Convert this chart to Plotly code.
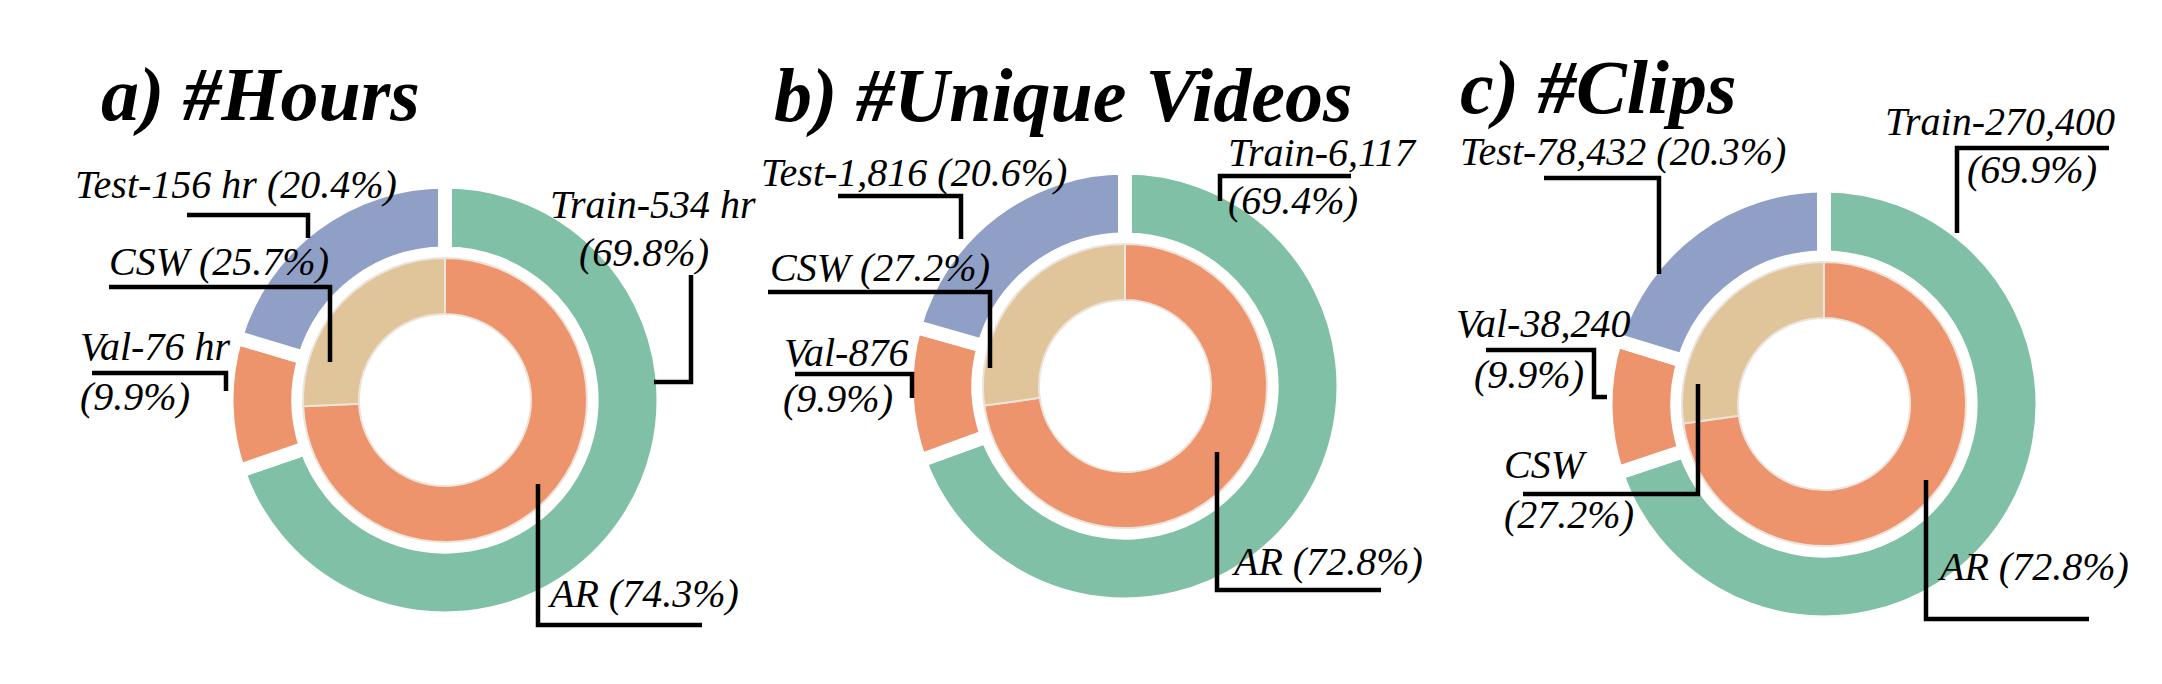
import plotly.graph_objects as go

# --- Data ---
PANEL_TITLES = ["a) #Hours", "b) #Unique Videos", "c) #Clips"]
SPLITS = ["Train", "Val", "Test"]
SOURCES = ["AR", "CSW"]

HOURS = [534, 76, 156]
VIDEOS = [6117, 876, 1816]
CLIPS = [270400, 38240, 78432]

SOURCE_PCT_HOURS = [74.3, 25.7]
SOURCE_PCT_VIDEOS = [72.8, 27.2]
SOURCE_PCT_CLIPS = [72.8, 27.2]

# label text, one list of lines per label (Train, Val, Test, AR, CSW)
LABELS_HOURS = [["Train-534 hr", "(69.8%)"], ["Val-76 hr", "(9.9%)"], ["Test-156 hr (20.4%)"],
                ["AR (74.3%)"], ["CSW (25.7%)"]]
LABELS_VIDEOS = [["Train-6,117", "(69.4%)"], ["Val-876", "(9.9%)"], ["Test-1,816 (20.6%)"],
                 ["AR (72.8%)"], ["CSW (27.2%)"]]
LABELS_CLIPS = [["Train-270,400", "(69.9%)"], ["Val-38,240", "(9.9%)"], ["Test-78,432 (20.3%)"],
                ["AR (72.8%)"], ["CSW", "(27.2%)"]]

# --- Style / layout (pixels of the page) ---
W, H = 2162, 684
PAGE_MARGIN = 8  # default body margin of the html page
SPLIT_COLORS = ["#7FC0A6", "#EE946C", "#8F9FC6"]
SOURCE_COLORS = ["#EE946C", "#E0C49A"]
FONT = "Liberation Serif"
LABEL_SIZE = 40
TITLE_SIZE = 76
GAP = 14                      # white gap between outer wedges
OUTER_R, OUTER_HOLE = 211.5 + GAP / 2, 0.671
INNER_R, INNER_HOLE = 142, 0.606

CENTERS = [(445, 400), (1125, 386), (1824, 404)]
TITLE_POS = [(99, 116), (772, 117), (1458, 109)]

# per label: list of (x_left, baseline) for each text line, and the leader line points
TEXT_POS = [
    [[(548, 220), (577, 268)], [(78, 362), (78, 412)], [(73, 200)], [(545, 609)], [(107, 277)]],
    [[(1226, 168), (1226, 216)], [(782, 368), (781, 414)], [(759, 188)], [(1229, 577)], [(768, 283)]],
    [[(1883, 137), (1965, 185)], [(1454, 339), (1472, 390)], [(1458, 167)], [(1935, 582)],
     [(1502, 480), (1502, 530)]],
]
LEADERS = [
    [[(691, 275), (691, 382), (654, 382)], [(92, 373), (226, 373), (226, 391)],
     [(187, 215), (308, 215), (308, 238)], [(538, 484), (538, 625), (702, 625)],
     [(109, 287), (330, 287), (330, 362)]],
    [[(1351, 176), (1220, 176), (1220, 201)], [(795, 374), (912, 374), (912, 398)],
     [(838, 196), (961, 196), (961, 239)], [(1217, 452), (1217, 590), (1381, 590)],
     [(768, 292), (990, 292), (990, 368)]],
    [[(2109, 148), (1957, 148), (1957, 233)], [(1486, 350), (1594, 350), (1594, 397), (1607, 397)],
     [(1544, 178), (1659, 178), (1659, 274)], [(1926, 480), (1926, 619), (2089, 619)],
     [(1523, 494), (1698, 494), (1698, 384)]],
]


def px(x):
    return (x - PAGE_MARGIN) / W


def py(y):
    return 1 - (y - PAGE_MARGIN) / H


def domain(cx, cy, half):
    return dict(x=[px(cx - half), px(cx + half)], y=[py(cy + half), py(cy - half)])


fig = go.Figure()

split_values = [HOURS, VIDEOS, CLIPS]
source_values = [SOURCE_PCT_HOURS, SOURCE_PCT_VIDEOS, SOURCE_PCT_CLIPS]
all_labels = [LABELS_HOURS, LABELS_VIDEOS, LABELS_CLIPS]

for i, (cx, cy) in enumerate(CENTERS):
    # outer ring: data splits
    fig.add_trace(go.Pie(
        labels=SPLITS, values=split_values[i], sort=False, direction="clockwise", rotation=0,
        hole=OUTER_HOLE, textinfo="none", hoverinfo="label+value+percent",
        marker=dict(colors=SPLIT_COLORS, line=dict(color="white", width=GAP)),
        domain=domain(cx, cy, OUTER_R), showlegend=False,
    ))
    # inner ring: video sources
    fig.add_trace(go.Pie(
        labels=SOURCES, values=source_values[i], sort=False, direction="clockwise", rotation=0,
        hole=INNER_HOLE, textinfo="none", hoverinfo="label+percent",
        marker=dict(colors=SOURCE_COLORS, line=dict(color="#ECE3DA", width=2)),
        domain=domain(cx, cy, INNER_R), showlegend=False,
    ))

annotations = []
shapes = []
for i in range(3):
    tx, tb = TITLE_POS[i]
    annotations.append(dict(
        text=PANEL_TITLES[i], x=px(tx), y=py(tb - 0.284 * TITLE_SIZE), xref="paper", yref="paper",
        xanchor="left", yanchor="middle", showarrow=False,
        font=dict(family=FONT, size=TITLE_SIZE, color="black", weight="bold", style="italic"),
    ))
    for lines, positions in zip(all_labels[i], TEXT_POS[i]):
        for text, (lx, lb) in zip(lines, positions):
            annotations.append(dict(
                text=text, x=px(lx), y=py(lb - 0.39 * LABEL_SIZE), xref="paper", yref="paper",
                xanchor="left", yanchor="middle", showarrow=False,
                font=dict(family=FONT, size=LABEL_SIZE, color="black", style="italic"),
            ))
    for pts in LEADERS[i]:
        path = "M " + " L ".join(f"{px(x):.5f},{py(y):.5f}" for x, y in pts)
        shapes.append(dict(type="path", path=path, xref="paper", yref="paper",
                           line=dict(color="black", width=4.5)))

fig.update_layout(
    width=W, height=H, margin=dict(l=0, r=0, t=0, b=0),
    paper_bgcolor="white", plot_bgcolor="white",
    annotations=annotations, shapes=shapes,
)

fig.write_html("out.html")
